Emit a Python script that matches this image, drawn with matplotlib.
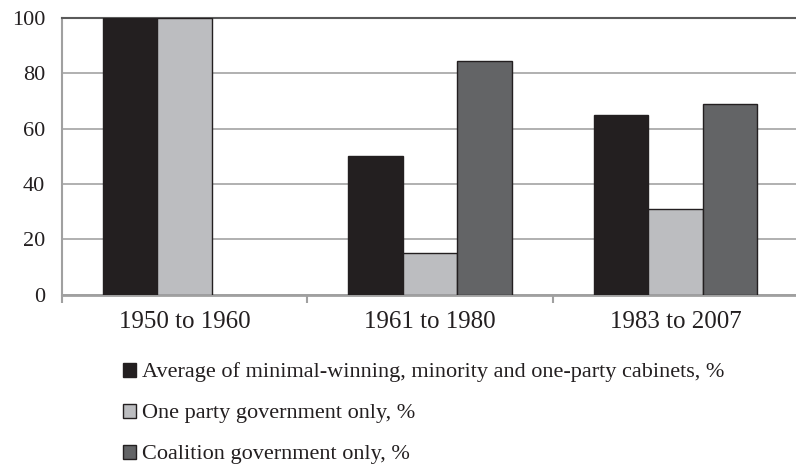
import matplotlib.pyplot as plt
import numpy as np
from matplotlib.patches import Patch

periods = ['1950 to 1960', '1961 to 1980', '1983 to 2007']
avg_cabinets = [100, 50, 65]
one_party = [100, 15, 31]
coalition = [np.nan, 84.5, 69]
series_labels = [
    'Average of minimal-winning, minority and one-party cabinets, %',
    'One party government only, %',
    'Coalition government only, %',
]
colors = ['#231f20', '#bcbdc0', '#636466']

plt.rcParams['font.family'] = ['Liberation Serif', 'DejaVu Serif']

fig = plt.figure(figsize=(7.96, 4.66), dpi=100)
ax = fig.add_axes([0.0779, 0.3676, 0.925, 0.5938])

x = np.arange(len(periods))
width = 0.222
series = [avg_cabinets, one_party, coalition]
for i, (vals, col) in enumerate(zip(series, colors)):
    ax.bar(x + (i - 1) * width, vals, width, color=col,
           edgecolor='#231f20', linewidth=1.0, zorder=3)

ax.set_xlim(-0.5, 2.5)
ax.set_ylim(0, 100)
ax.set_yticks([0, 20, 40, 60, 80, 100])
ax.yaxis.grid(True, color='#a3a3a3', linewidth=1.2, zorder=0)
ax.set_axisbelow(True)
ax.tick_params(axis='y', length=0, pad=12, labelsize=16, labelcolor='#231f20')

ax.set_xticks(x, periods)
ax.tick_params(axis='x', which='major', length=0, pad=12, labelsize=18,
               labelcolor='#231f20')
# category separators below the axis
ax.set_xticks([-0.5, 0.5, 1.5], minor=True)
ax.tick_params(axis='x', which='minor', length=6, width=1.5, color='#a0a0a0',
               direction='out')

ax.spines['right'].set_visible(False)
ax.spines['top'].set_color('#5a5a5a')
ax.spines['top'].set_linewidth(1.5)
ax.spines['left'].set_color('#a0a0a0')
ax.spines['left'].set_linewidth(1.5)
ax.spines['bottom'].set_color('#a0a0a0')
ax.spines['bottom'].set_linewidth(2)

handles = [Patch(facecolor=c, edgecolor='#231f20', linewidth=1.0) for c in colors]
fig.legend(handles, series_labels, loc='upper left',
           bbox_to_anchor=(0.1545, 0.222), frameon=False, fontsize=16,
           handlelength=0.6, handleheight=0.6, handletextpad=0.25,
           labelspacing=0.95, borderpad=0, borderaxespad=0,
           labelcolor='#231f20')

fig.savefig('out.png', dpi=100)
